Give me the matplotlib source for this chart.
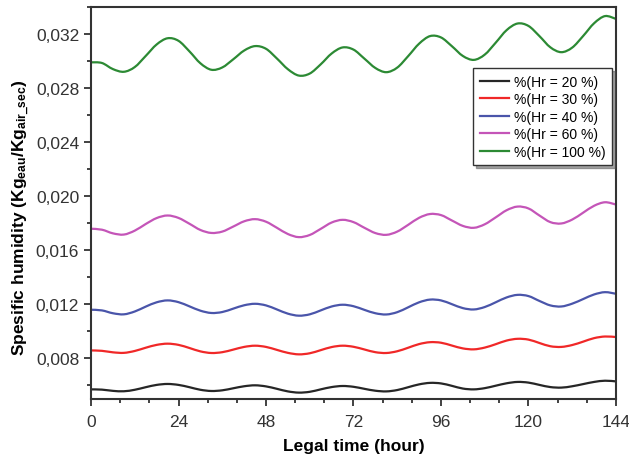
import matplotlib
matplotlib.use("Agg")
import numpy as np
import matplotlib.pyplot as plt
from matplotlib.path import Path
from matplotlib.patches import PathPatch
from matplotlib.ticker import MultipleLocator, FuncFormatter

# Specific humidity over six days for five relative humidity levels
hours = list(range(0, 145, 3))

hr_20 = [0.00571, 0.00569, 0.00560, 0.00557, 0.00568, 0.00587, 0.00604, 0.00611,
         0.00604, 0.00587, 0.00568, 0.00559, 0.00564, 0.00579, 0.00594, 0.00601,
         0.00593, 0.00575, 0.00556, 0.00547, 0.00553, 0.00571, 0.00588, 0.00596,
         0.00590, 0.00575, 0.00561, 0.00556, 0.00566, 0.00587, 0.00608, 0.00619,
         0.00615, 0.00597, 0.00577, 0.00571, 0.00580, 0.00598, 0.00616, 0.00626,
         0.00621, 0.00604, 0.00588, 0.00584, 0.00594, 0.00610, 0.00626, 0.00635,
         0.00630]

hr_30 = [0.00859, 0.00856, 0.00845, 0.00841, 0.00855, 0.00879, 0.00900, 0.00909,
         0.00900, 0.00877, 0.00852, 0.00840, 0.00846, 0.00865, 0.00885, 0.00894,
         0.00885, 0.00863, 0.00841, 0.00830, 0.00838, 0.00861, 0.00884, 0.00894,
         0.00886, 0.00866, 0.00846, 0.00840, 0.00853, 0.00879, 0.00906, 0.00920,
         0.00916, 0.00895, 0.00874, 0.00867, 0.00880, 0.00905, 0.00932, 0.00945,
         0.00939, 0.00914, 0.00890, 0.00885, 0.00899, 0.00924, 0.00950, 0.00962,
         0.00958]

hr_40 = [0.01160, 0.01155, 0.01134, 0.01126, 0.01147, 0.01183, 0.01215, 0.01229,
         0.01216, 0.01185, 0.01153, 0.01136, 0.01143, 0.01168, 0.01193, 0.01204,
         0.01192, 0.01162, 0.01131, 0.01116, 0.01126, 0.01155, 0.01184, 0.01197,
         0.01186, 0.01159, 0.01134, 0.01125, 0.01142, 0.01178, 0.01215, 0.01235,
         0.01229, 0.01201, 0.01172, 0.01162, 0.01180, 0.01215, 0.01251, 0.01270,
         0.01261, 0.01225, 0.01192, 0.01184, 0.01205, 0.01239, 0.01273, 0.01290,
         0.01278]

hr_60 = [0.01759, 0.01752, 0.01725, 0.01716, 0.01745, 0.01794, 0.01838, 0.01857,
         0.01839, 0.01796, 0.01750, 0.01728, 0.01738, 0.01775, 0.01814, 0.01830,
         0.01811, 0.01766, 0.01720, 0.01697, 0.01713, 0.01758, 0.01805, 0.01825,
         0.01808, 0.01766, 0.01727, 0.01714, 0.01738, 0.01788, 0.01840, 0.01868,
         0.01860, 0.01820, 0.01780, 0.01766, 0.01792, 0.01843, 0.01896, 0.01923,
         0.01909, 0.01857, 0.01808, 0.01798, 0.01827, 0.01878, 0.01929, 0.01955,
         0.01938]

hr_100 = [0.02990, 0.02985, 0.02940, 0.02920, 0.02955, 0.03037, 0.03122, 0.03168,
          0.03149, 0.03071, 0.02983, 0.02935, 0.02952, 0.03012, 0.03077, 0.03110,
          0.03090, 0.03018, 0.02939, 0.02892, 0.02907, 0.02975, 0.03055, 0.03100,
          0.03084, 0.03017, 0.02948, 0.02917, 0.02951, 0.03036, 0.03128, 0.03184,
          0.03174, 0.03109, 0.03037, 0.03008, 0.03047, 0.03135, 0.03228, 0.03277,
          0.03259, 0.03184, 0.03101, 0.03065, 0.03099, 0.03185, 0.03279, 0.03332,
          0.03311]

labels = ["%(Hr = 20 %)", "%(Hr = 30 %)", "%(Hr = 40 %)", "%(Hr = 60 %)", "%(Hr = 100 %)"]
colors = ["#262626", "#f02828", "#4a55aa", "#c455b8", "#2c8a34"]

plt.rcParams["font.family"] = ["Liberation Sans", "DejaVu Sans"]
plt.rcParams["mathtext.fontset"] = "custom"
plt.rcParams["mathtext.rm"] = "Liberation Sans:bold"
plt.rcParams["mathtext.default"] = "rm"


def smooth_curve(x, y):
    # Catmull-Rom through the samples, drawn as cubic Bezier segments
    pts = np.column_stack([x, y]).astype(float)
    n = len(pts)
    verts = [pts[0]]
    codes = [Path.MOVETO]
    for i in range(n - 1):
        p0 = pts[max(i - 1, 0)]
        p1 = pts[i]
        p2 = pts[i + 1]
        p3 = pts[min(i + 2, n - 1)]
        verts += [p1 + (p2 - p0) / 6, p2 - (p3 - p1) / 6, p2]
        codes += [Path.CURVE4] * 3
    return Path(verts, codes)


fig = plt.figure(figsize=(6.29, 4.64), dpi=100)
ax = fig.add_axes([0.1447, 0.138, 0.8346, 0.845])

for series, lab, col in zip([hr_20, hr_30, hr_40, hr_60, hr_100], labels, colors):
    ax.add_patch(PathPatch(smooth_curve(hours, series), fill=False,
                           edgecolor=col, linewidth=1.6, capstyle="round"))
    ax.plot([], [], color=col, linewidth=1.6, label=lab)

ax.set_xlim(0, 144)
ax.set_ylim(0.005, 0.034)
ax.xaxis.set_major_locator(MultipleLocator(24))
ax.xaxis.set_minor_locator(MultipleLocator(8))
ax.yaxis.set_major_locator(MultipleLocator(0.004))
ax.yaxis.set_minor_locator(MultipleLocator(0.002))
ax.yaxis.set_major_formatter(FuncFormatter(lambda v, p: f"{v:.3f}".replace(".", ",")))

ax.tick_params(which="major", direction="out", length=5, width=1.3,
               labelsize=12.5, colors="#333333")
ax.tick_params(axis="x", which="major", pad=6)
ax.tick_params(which="minor", direction="out", length=3, width=1.3, colors="#333333")
for s in ax.spines.values():
    s.set_linewidth(1.5)
    s.set_color("#333333")

ax.set_xlabel("Legal time (hour)", fontsize=12.5, fontweight="bold", labelpad=6)
ax.set_ylabel(r"Spesific humidity (Kg$_{eau}$/Kg$_{air\_sec}$)", fontsize=12.5,
              fontweight="bold")
ax.yaxis.set_label_coords(-0.112, 0.464)

leg = ax.legend(loc="upper right", bbox_to_anchor=(0.993, 0.843), fontsize=10,
                frameon=True, fancybox=False, shadow=True, handlelength=2.1,
                labelspacing=0.25, borderpad=0.45, handletextpad=0.4,
                borderaxespad=0)
leg.get_frame().set_edgecolor("#333333")
leg.get_frame().set_linewidth(1.0)

fig.savefig("out.png", dpi=100)
